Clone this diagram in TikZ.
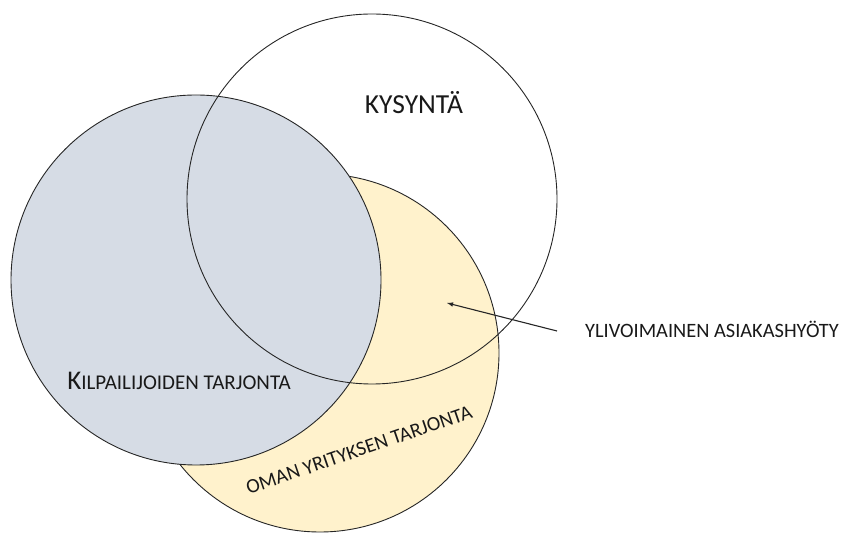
\documentclass[tikz,border=0pt]{standalone}
\usepackage{fontspec}
\setmainfont{Carlito}
\usetikzlibrary{arrows,shapes}
\definecolor{greyfill}{HTML}{D6DCE5}
\definecolor{yellowfill}{HTML}{FFF2CC}
\tikzstyle{venn}=[circle,draw=black!85,line width=0.9pt,inner sep=0pt]
\tikzstyle{lbl}=[inner sep=0pt,text=black!90]
\tikzstyle{pointer}=[-latex, line width=1.1pt, draw=black!85]

\begin{document}
\begin{tikzpicture}[x=1pt,y=-1pt]
\useasboundingbox (0,0) rectangle (841,534);
% the three sets
\node[venn,fill=yellowfill,minimum size=358pt] (oma) at (320,353) {};
\node[venn,fill=greyfill,minimum size=370pt] (kilp) at (196,280) {};
\node[venn,minimum size=370pt] (kys) at (372,199) {};
% labels
\node[lbl,font=\fontsize{27.5}{30}\selectfont] (kyslbl) at (414,103) {KYSYNTÄ};
\node[lbl] (kilplbl) at (179,381) {\fontsize{27}{30}\selectfont K\fontsize{21}{24}\selectfont ILPAILIJOIDEN TARJONTA};
\node[lbl,font=\fontsize{20.3}{23}\selectfont,rotate=19] (omalbl) at (359,450) {OMAN YRITYKSEN TARJONTA};
\node[lbl,font=\fontsize{20.4}{23}\selectfont,anchor=west] (ylbl) at (585,329) {YLIVOIMAINEN ASIAKASHYÖTY};
\coordinate (etu) at (447,303);
\draw[pointer] ([xshift=-28pt,yshift=-2pt]ylbl.west) -- (etu);
\end{tikzpicture}
\end{document}
